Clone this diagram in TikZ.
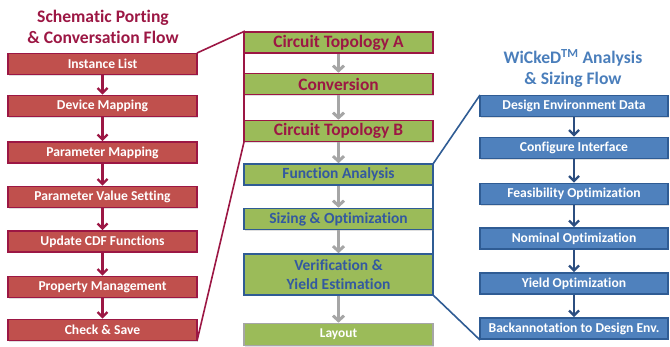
\documentclass[tikz,border=0pt]{standalone}
\usepackage{fontspec}
\setmainfont[Ligatures=NoCommon]{Carlito}
\usetikzlibrary{arrows.meta,shadows}

\definecolor{crimson}{HTML}{9C1744}
\definecolor{redfill}{HTML}{C0504D}
\definecolor{greenfill}{HTML}{9BBB59}
\definecolor{bluefill}{HTML}{4F81BD}
\definecolor{blueline}{HTML}{2F5C94}
\definecolor{bluetext}{HTML}{3359A0}
\definecolor{bluearrow}{HTML}{2C4E80}
\definecolor{titleblue}{HTML}{4A7EBB}
\definecolor{greyline}{HTML}{A6A6A6}

\tikzset{
  box/.style={rectangle, line width=1.6pt, inner sep=0pt, align=center,
              font=\bfseries, drop shadow={shadow xshift=1pt, shadow yshift=-1.5pt, opacity=0.25}},
  redbox/.style={box, draw=crimson, fill=redfill, text=white,
                 minimum width=189pt, minimum height=21pt, font=\fontsize{13.6}{15}\selectfont\bfseries},
  greenred/.style={box, draw=crimson, fill=greenfill, text=crimson,
                   minimum width=189pt, minimum height=21pt, font=\fontsize{17.4}{19}\selectfont\bfseries},
  greenblue/.style={box, draw=blueline, fill=greenfill, text=bluetext,
                    minimum width=189pt, minimum height=21pt, font=\fontsize{15.5}{19}\selectfont\bfseries},
  greengrey/.style={box, draw=greyline, fill=greenfill, text=white,
                    minimum width=189pt, minimum height=22pt, font=\fontsize{13.4}{15}\selectfont\bfseries},
  bluebox/.style={box, draw=blueline, fill=bluefill, text=white,
                  minimum width=188pt, minimum height=21pt, font=\fontsize{13.6}{15}\selectfont\bfseries},
  redarrow/.style={draw=crimson, line width=2.6pt,
                   -{Straight Barb[length=5pt, width=10pt, line width=2.4pt]}},
  greyarrow/.style={draw=greyline, line width=3.6pt,
                    -{Straight Barb[length=5pt, width=11pt, line width=3pt]}},
  bluearrowstyle/.style={draw=bluearrow, line width=2.6pt,
                         -{Straight Barb[length=5pt, width=10pt, line width=2.4pt]}},
  title/.style={align=center, font=\fontsize{17.6}{20.5}\selectfont\bfseries},
}

\begin{document}
\begin{tikzpicture}[x=1pt, y=-1pt]
\useasboundingbox (0,0) rectangle (670,347);

% headings
\node[title, text=crimson] (lefttitle) at (103,27) {Schematic Porting\\\& Conversation Flow};
\node[title, text=titleblue] (righttitle) at (573,68.5) {WiCkeD\textsuperscript{TM} Analysis\\\& Sizing Flow};

% bracket outlines (drawn first so the boxes sit on top)
\coordinate (ra) at (197,53);
\coordinate (rb) at (244,31.5);
\coordinate (rc) at (244,142);
\coordinate (rd) at (197,341);
\draw[crimson, line width=1.6pt] (ra) -- (rb) -- (rc) -- (rd);
\coordinate (ba) at (480,95);
\coordinate (bb) at (433,164);
\coordinate (bc) at (433,295);
\coordinate (bd) at (480,340);
\draw[blueline, line width=1.6pt] (ba) -- (bb) -- (bc) -- (bd);

% schematic porting flow
\node[redbox] (l1) at (102.5,64)    {Instance List};
\node[redbox] (l2) at (102.5,106)   {Device Mapping};
\node[redbox] (l3) at (102.5,152.5) {Parameter Mapping};
\node[redbox] (l4) at (102.5,197)   {Parameter Value Setting};
\node[redbox] (l5) at (102.5,241.5) {Update CDF Functions};
\node[redbox] (l6) at (102.5,287)   {Property Management};
\node[redbox] (l7) at (102.5,330)   {Check \& Save};

% main design flow
\node[greenred]  (m1) at (338.5,42.5)  {Circuit Topology A};
\node[greenred]  (m2) at (338.5,84)    {Conversion};
\node[greenred]  (m3) at (338.5,131)   {Circuit Topology B};
\node[greenblue] (m4) at (338.5,174.5) {Function Analysis};
\node[greenblue] (m5) at (338.5,219)   {Sizing \& Optimization};
\node[greenblue, minimum height=41pt, font=\fontsize{15.5}{19}\selectfont\bfseries]
                 (m6) at (338.5,274.5) {Verification \&\\Yield Estimation};
\node[greengrey] (m7) at (338.5,334.5) {Layout};

% WiCkeD analysis and sizing flow
\node[bluebox] (r1) at (574,106)   {Design Environment Data};
\node[bluebox] (r2) at (574,148)   {Configure Interface};
\node[bluebox] (r3) at (574,194)   {Feasibility Optimization};
\node[bluebox] (r4) at (574,238.5) {Nominal Optimization};
\node[bluebox] (r5) at (574,283.5) {Yield Optimization};
\node[bluebox] (r6) at (574,328.5) {Backannotation to Design Env.};

% connectors
\foreach \a/\b in {l1/l2,l2/l3,l3/l4,l4/l5,l5/l6,l6/l7}
  \draw[redarrow] (\a.south) -- (\b.north);
\foreach \a/\b in {m1/m2,m2/m3,m3/m4,m4/m5,m5/m6,m6/m7}
  \draw[greyarrow] (\a.south) -- (\b.north);
\foreach \a/\b in {r1/r2,r2/r3,r3/r4,r4/r5,r5/r6}
  \draw[bluearrowstyle] (\a.south) -- (\b.north);
\end{tikzpicture}
\end{document}
